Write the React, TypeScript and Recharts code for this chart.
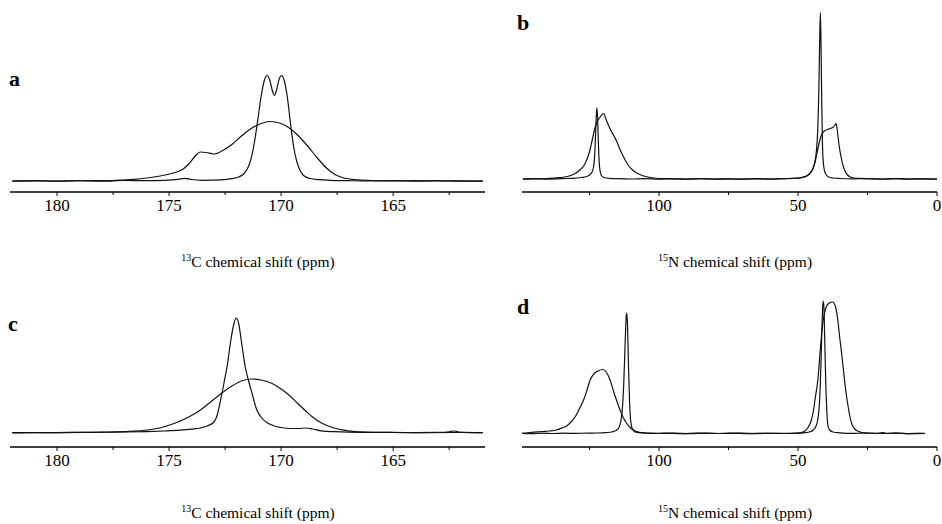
import React from 'react';
import { LineChart, Line, XAxis, YAxis } from 'recharts';

type Pt = [number, number];

// ---- 13C carbonyl region, top left (a) ----
const carbonA1: Pt[] = [
  [182, 0.5], [181, 0.8], [180, 0.3], [179, 0.9], [178, 0.4], [177, 1.0], [176, 0.8], [175.2, 1.2],
  [174.6, 2.2], [174.3, 3.2], [174.0, 2.0], [173.5, 1.2], [173.0, 1.3], [172.5, 1.8], [172.2, 2.8],
  [171.9, 4.5], [171.7, 7], [171.5, 13], [171.35, 22], [171.2, 38], [171.05, 60], [170.9, 84],
  [170.75, 101], [170.62, 106], [170.5, 101], [170.38, 90], [170.3, 86], [170.2, 92], [170.08, 103],
  [169.98, 106], [169.86, 101], [169.72, 84], [169.58, 58], [169.45, 36], [169.3, 20], [169.15, 11],
  [169.0, 6], [168.7, 3], [168.3, 1.8], [167.8, 1.2], [167, 0.8], [166, 0.5], [165, 0.9], [164, 0.4],
  [163, 0.8], [162, 0.3], [161, 0.6],
];
const carbonA2: Pt[] = [
  [182, 0.3], [181, 0.6], [180, 0.4], [179, 0.8], [178, 0.8], [177.3, 1.3], [176.6, 2.2], [176, 3.5],
  [175.4, 5.5], [174.9, 8], [174.4, 12], [174.1, 18], [173.85, 25], [173.6, 29.5], [173.35, 29],
  [173.0, 27.5], [172.6, 31], [172.2, 37], [171.8, 45], [171.4, 52], [171.0, 57], [170.5, 60],
  [170.0, 58], [169.6, 53], [169.2, 45], [168.8, 35], [168.4, 24], [168.0, 14], [167.6, 7],
  [167.2, 3.5], [166.7, 1.8], [166, 1.0], [165, 0.6], [164, 0.9], [163, 0.5], [162, 0.7], [161, 0.4],
];

// ---- 15N region, top right (b) ----
const nitrogenB1: Pt[] = [
  [149, 0.5], [145, 0.8], [140, 0.4], [135, 0.9], [131, 1.2], [128, 2], [126, 3], [125, 4.5],
  [124.2, 7], [123.6, 12], [123.2, 22], [122.9, 40], [122.6, 62], [122.35, 72], [122.1, 62],
  [121.8, 35], [121.5, 16], [121.1, 7], [120.6, 3.5], [119.8, 2], [118, 1.2], [115, 0.8], [110, 0.5],
  [105, 0.9], [100, 0.3], [95, 0.7], [90, 0.4], [85, 0.8], [80, 0.3], [75, 0.6], [70, 0.4], [65, 0.8],
  [60, 0.5], [55, 0.9], [51, 1.2], [48.5, 2.2], [47, 3.5], [45.8, 6], [44.8, 10], [44.0, 17],
  [43.4, 28], [42.9, 50], [42.5, 90], [42.2, 140], [41.95, 167], [41.7, 130], [41.45, 75],
  [41.2, 35], [40.9, 17], [40.4, 8], [39.8, 4.5], [39, 2.5], [37.5, 1.5], [35, 1], [30, 0.6],
  [25, 0.9], [20, 0.4], [15, 0.8], [10, 0.5], [5, 0.7], [0, 0.4],
];
const nitrogenB2: Pt[] = [
  [149, 0.3], [145, 0.6], [140, 1.0], [136, 1.8], [133, 3], [130.5, 5.5], [128.5, 9.5], [127, 14],
  [125.8, 21], [124.8, 30], [124, 40], [123.2, 50], [122.4, 57], [121.3, 62], [120.3, 65.5],
  [119.8, 66], [119.2, 61], [118.3, 55], [117.3, 49], [116.3, 44], [115.2, 38], [114.2, 31],
  [113.2, 25], [112.2, 19.5], [111, 14], [109.5, 9.5], [108, 6.5], [106, 4], [104, 2.5], [102, 1.5],
  [100, 1], [95, 0.7], [90, 0.4], [85, 0.9], [80, 0.5], [75, 0.6], [70, 0.3], [65, 0.7], [60, 0.4],
  [55, 0.8], [50, 1.3], [48, 2.2], [46.8, 3.5], [45.6, 6.5], [44.6, 11], [43.8, 18], [43.2, 26],
  [42.6, 34], [42.0, 41], [41.3, 46], [40.5, 48.5], [39.5, 50], [38.5, 51], [37.5, 52], [36.8, 54],
  [36.3, 56], [35.9, 50], [35.5, 40], [35.0, 30], [34.4, 21], [33.7, 13], [33.0, 8], [32.2, 4.5],
  [31.2, 2.5], [30, 1.5], [28, 1.2], [25, 0.8], [20, 0.5], [15, 0.9], [10, 0.4], [5, 0.7], [0, 0.5],
];

// ---- 13C carbonyl region, bottom left (c) ----
const carbonC1: Pt[] = [
  [182, 0.3], [181, 0.5], [180, 0.4], [179, 0.6], [178, 0.8], [177, 1.0], [176, 1.4], [175.2, 2],
  [174.5, 2.8], [174, 3.8], [173.6, 5], [173.3, 7], [173.0, 11], [172.85, 18], [172.7, 33],
  [172.55, 50], [172.4, 68], [172.25, 92], [172.1, 110], [172.0, 115], [171.9, 110], [171.75, 88],
  [171.6, 66], [171.45, 52], [171.3, 40], [171.1, 24], [170.9, 16], [170.6, 10], [170.3, 7],
  [170.0, 5.5], [169.6, 4.5], [169.2, 4.5], [168.9, 5], [168.6, 4], [168.2, 2.2], [167.6, 1.3],
  [167, 0.8], [166, 0.5], [165, 0.6], [164, 0.4], [163, 0.6], [162.5, 1.2], [162.3, 2], [162.0, 0.9],
  [161, 0.4],
];
const carbonC2: Pt[] = [
  [182, 0.2], [180, 0.4], [178.5, 0.6], [177.5, 1.0], [176.6, 1.8], [175.8, 3.5], [175.1, 7],
  [174.5, 12], [174.0, 17.5], [173.6, 23], [173.2, 30], [172.7, 39], [172.2, 47], [171.7, 52.5],
  [171.3, 54], [170.9, 53], [170.4, 49.5], [170.0, 44], [169.6, 37], [169.3, 30.5], [168.9, 22],
  [168.6, 16], [168.2, 10], [167.7, 5.5], [167.2, 2.8], [166.8, 1.6], [166, 0.8], [165, 0.5],
  [164, 0.4], [162, 0.5], [161, 0.3],
];

// ---- 15N region, bottom right (d) ----
const nitrogenD1: Pt[] = [
  [150, 0.8], [146, 0.4], [142, 0.9], [138, 0.5], [134, 0.8], [130, 0.6], [126, 0.9], [122, 1.0],
  [119, 1.4], [117, 2], [115.5, 3.5], [114.5, 6], [113.8, 12], [113.2, 25], [112.7, 50], [112.2, 90],
  [111.8, 118], [111.6, 121], [111.35, 110], [111.0, 70], [110.6, 32], [110.2, 13], [109.7, 6],
  [109.0, 3], [108, 1.6], [106, 1], [103, 0.6], [98, 0.9], [92, 0.4], [86, 0.8], [80, 0.5], [74, 0.9],
  [68, 0.4], [62, 0.7], [56, 0.5], [50, 0.9], [48, 1.2], [46, 2], [44.5, 4], [43.5, 8], [42.8, 16],
  [42.2, 35], [41.7, 75], [41.3, 115], [41.0, 133], [40.7, 128], [40.4, 95], [40.0, 50], [39.6, 21],
  [39.2, 8], [38.6, 4], [37.4, 2], [35, 1.2], [30, 0.6], [25, 0.9], [20, 0.5], [15, 0.8], [10, 0.4],
  [4.3, 0.6],
];
const nitrogenD2: Pt[] = [
  [150, 0.5], [148, 1], [145, 1.8], [142, 2.5], [139.5, 3], [137, 4], [135, 6], [133, 8.5],
  [131.5, 12.5], [130, 18], [128.5, 26], [127, 35], [125.8, 45], [124.8, 54], [123.5, 60], [122, 63],
  [120.3, 64.5], [119, 62], [117.6, 54], [116.4, 43], [115.2, 33], [114, 24], [112.8, 16],
  [111.6, 10.5], [110.4, 6.5], [109, 3.5], [107.5, 2], [106, 1.3], [104, 0.8], [100, 0.5], [95, 0.8],
  [89, 0.4], [83, 0.9], [77, 0.5], [71, 0.8], [65, 0.4], [59, 0.7], [53, 0.5], [50, 0.8], [49, 1.5],
  [48, 2.2], [46.5, 6], [45.3, 13], [44.6, 21], [43.9, 34], [42.8, 56], [42.1, 80], [41.3, 106],
  [40.2, 124], [38.8, 131], [37.6, 132], [36.6, 128], [35.7, 114], [34.9, 94], [34.2, 78], [33.5, 60],
  [32.8, 43], [32, 28], [31.3, 17], [30.5, 9], [29.6, 5], [28.6, 3], [27, 1.5], [25, 1], [22, 0.6],
  [19.5, 1.4], [18, 0.5], [15, 0.8], [10, 0.4], [6, 0.7], [4.3, 0.5],
];

const carbonTicks = [180, 177.5, 175, 172.5, 170, 167.5, 165, 162.5];
const carbonLabels = [180, 175, 170, 165];
const nitrogenTicks = [125, 100, 75, 50, 25, 0];
const nitrogenLabels = [100, 50, 0];

const SERIF = '"Liberation Serif", "Times New Roman", serif';

const toRows = (pts: Pt[]) => pts.map(([ppm, v]) => ({ ppm, v }));

const makeTick = (labels: number[]) => (props: any) => {
  const { x, y, payload } = props;
  const major = labels.includes(payload.value);
  return (
    <g>
      <line x1={x} x2={x} y1={y} y2={y + (major ? 4 : 3)} stroke="#000" strokeWidth={1} />
      {major && (
        <text x={x} y={y + 19} textAnchor="middle" fontSize={17} fontFamily={SERIF} fill="#000">
          {payload.value}
        </text>
      )}
    </g>
  );
};

interface PanelProps {
  left: number;
  top: number;
  width: number;
  plotLeft: number;
  plotBottom: number; // axis line, page y
  baseline: number; // spectrum baseline, page y
  domain: [number, number];
  ticks: number[];
  labels: number[];
  series: Pt[][];
}

function Spectrum({ left, top, width, plotLeft, plotBottom, baseline, domain, ticks, labels, series }: PanelProps) {
  const marginTop = 2;
  const axisH = 38;
  const height = plotBottom - top + axisH;
  const yMin = -(plotBottom - baseline);
  const yMax = baseline - (top + marginTop);
  return (
    <div style={{ position: 'absolute', left, top }}>
      <LineChart width={width} height={height} margin={{ top: marginTop, right: 5, left: plotLeft, bottom: 0 }}>
        <XAxis
          type="number"
          dataKey="ppm"
          domain={domain}
          allowDataOverflow
          reversed
          ticks={ticks}
          interval={0}
          tickLine={false}
          tickSize={0}
          tickMargin={0}
          tick={makeTick(labels)}
          axisLine={{ stroke: '#000', strokeWidth: 1.4 }}
          height={axisH}
        />
        <YAxis hide type="number" domain={[yMin, yMax]} allowDataOverflow />
        {series.map((s, i) => (
          <Line
            key={i}
            data={toRows(s)}
            dataKey="v"
            type="monotone"
            dot={false}
            stroke="#111"
            strokeWidth={1.2}
            isAnimationActive={false}
          />
        ))}
      </LineChart>
    </div>
  );
}

export default function App() {
  const letter = { fontFamily: SERIF, fontWeight: 700, fontSize: 22, fill: '#000' } as const;
  const title = { fontFamily: SERIF, fontSize: 15.5, fill: '#000' } as const;
  return (
    <div style={{ position: 'absolute', left: 0, top: 0, width: 942, height: 524, background: '#fff' }}>
      <Spectrum left={0} top={0} width={490} plotLeft={10} plotBottom={192} baseline={181.5}
        domain={[160.9, 182.1]} ticks={carbonTicks} labels={carbonLabels} series={[carbonA1, carbonA2]} />
      <Spectrum left={490} top={0} width={452} plotLeft={32} plotBottom={192} baseline={179.5}
        domain={[0, 149.3]} ticks={nitrogenTicks} labels={nitrogenLabels} series={[nitrogenB1, nitrogenB2]} />
      <Spectrum left={0} top={262} width={490} plotLeft={10} plotBottom={447} baseline={433}
        domain={[160.9, 182.1]} ticks={carbonTicks} labels={carbonLabels} series={[carbonC1, carbonC2]} />
      <Spectrum left={490} top={262} width={452} plotLeft={32} plotBottom={447} baseline={434}
        domain={[0, 149.3]} ticks={nitrogenTicks} labels={nitrogenLabels} series={[nitrogenD1, nitrogenD2]} />
      <svg width={942} height={524} style={{ position: 'absolute', left: 0, top: 0, pointerEvents: 'none' }}>
        <text x={9} y={86} {...letter}>a</text>
        <text x={517} y={30} {...letter}>b</text>
        <text x={8} y={331} {...letter}>c</text>
        <text x={517} y={314} {...letter}>d</text>
        <text x={258} y={267} textAnchor="middle" {...title}>
          <tspan fontSize={10} dy={-6}>13</tspan>
          <tspan dy={6}>C chemical shift (ppm)</tspan>
        </text>
        <text x={735} y={267} textAnchor="middle" {...title}>
          <tspan fontSize={10} dy={-6}>15</tspan>
          <tspan dy={6}>N chemical shift (ppm)</tspan>
        </text>
        <text x={258} y={518} textAnchor="middle" {...title}>
          <tspan fontSize={10} dy={-6}>13</tspan>
          <tspan dy={6}>C chemical shift (ppm)</tspan>
        </text>
        <text x={735} y={518} textAnchor="middle" {...title}>
          <tspan fontSize={10} dy={-6}>15</tspan>
          <tspan dy={6}>N chemical shift (ppm)</tspan>
        </text>
      </svg>
    </div>
  );
}
